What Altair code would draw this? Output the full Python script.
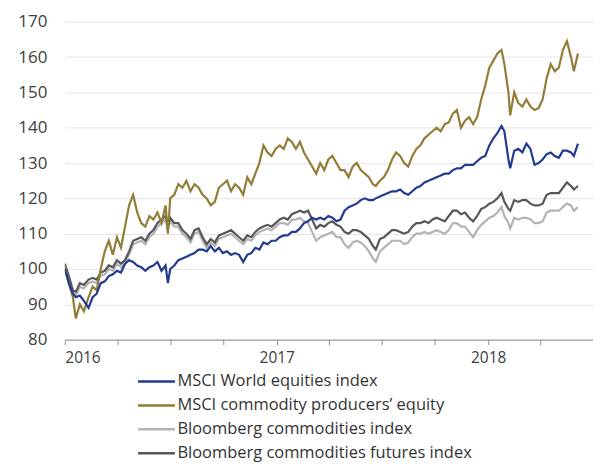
import altair as alt
import pandas as pd

dates = [
    "2016-01-01", "2016-01-08", "2016-01-15", "2016-01-20", "2016-01-27", "2016-02-03", "2016-02-11", "2016-02-18",
    "2016-02-25", "2016-03-03", "2016-03-10", "2016-03-17", "2016-03-24", "2016-03-31", "2016-04-07", "2016-04-14",
    "2016-04-21", "2016-04-28", "2016-05-05", "2016-05-12", "2016-05-19", "2016-05-26", "2016-06-02", "2016-06-09",
    "2016-06-16", "2016-06-23", "2016-06-27", "2016-07-01", "2016-07-08", "2016-07-15", "2016-07-22", "2016-07-29",
    "2016-08-05", "2016-08-12", "2016-08-19", "2016-08-26", "2016-09-02", "2016-09-09", "2016-09-16", "2016-09-23",
    "2016-09-30", "2016-10-07", "2016-10-14", "2016-10-21", "2016-10-28", "2016-11-04", "2016-11-11", "2016-11-18",
    "2016-11-25", "2016-12-02", "2016-12-09", "2016-12-16", "2016-12-23", "2016-12-30", "2017-01-06", "2017-01-13",
    "2017-01-20", "2017-01-27", "2017-02-03", "2017-02-10", "2017-02-17", "2017-02-24", "2017-03-03", "2017-03-10",
    "2017-03-17", "2017-03-24", "2017-03-31", "2017-04-07", "2017-04-14", "2017-04-21", "2017-04-28", "2017-05-05",
    "2017-05-12", "2017-05-19", "2017-05-26", "2017-06-02", "2017-06-09", "2017-06-16", "2017-06-21", "2017-06-28",
    "2017-07-05", "2017-07-12", "2017-07-19", "2017-07-26", "2017-08-02", "2017-08-09", "2017-08-16", "2017-08-23",
    "2017-08-30", "2017-09-06", "2017-09-13", "2017-09-20", "2017-09-27", "2017-10-04", "2017-10-11", "2017-10-18",
    "2017-10-25", "2017-11-01", "2017-11-08", "2017-11-15", "2017-11-22", "2017-11-29", "2017-12-06", "2017-12-13",
    "2017-12-20", "2017-12-27", "2018-01-03", "2018-01-10", "2018-01-17", "2018-01-24", "2018-01-29", "2018-02-05",
    "2018-02-08", "2018-02-15", "2018-02-22", "2018-03-01", "2018-03-08", "2018-03-15", "2018-03-22", "2018-03-29",
    "2018-04-05", "2018-04-12", "2018-04-19", "2018-04-26", "2018-05-03", "2018-05-10", "2018-05-17", "2018-05-24",
    "2018-05-29", "2018-06-05",
]

msci_world = [
    100, 96, 93, 92, 92.5, 91, 89, 92, 93, 96, 96.5, 98, 98.5, 99.5, 99, 101.5,
    102.5, 102, 101, 100.5, 99.5, 100.5, 101, 102, 99.5, 101, 96, 100, 101, 102.5, 103, 103.5,
    104, 104.5, 105.5, 105.5, 105, 106.5, 105, 106, 104.5, 105, 104, 104.5, 104, 102, 104, 104.5,
    106, 105.5, 107.5, 107, 108, 108, 109, 109.5, 109.5, 110.5, 110.5, 111.5, 113, 113.5, 114.5, 114,
    114.5, 114, 115, 114.5, 113.5, 114, 116.5, 117.5, 118, 118.5, 119.5, 120, 119.5, 119.5, 120, 120.5,
    121, 121.5, 122, 122, 122.5, 121.5, 121, 122, 123, 123.5, 124.5, 125, 125.5, 126, 126.5, 127,
    127, 128, 128.5, 128.5, 129.5, 129.5, 129.5, 130.5, 131.5, 132, 135, 137, 138.5, 140.5, 139, 131,
    128.5, 133.5, 134, 133, 135.5, 134, 129.5, 130, 131, 132.5, 133, 132, 131.5, 133.5, 133.5, 133,
    132, 135.5,
]

msci_commodity = [
    101, 96, 92, 86, 90, 88, 92, 95, 94, 100, 105, 108, 104, 109, 106, 112,
    118, 121, 116, 113, 112, 115, 114, 116, 113, 118, 110, 120, 121, 124, 123, 125,
    122, 124, 123, 121, 120, 118, 119, 123, 124, 125, 122, 124, 123, 121, 126, 124,
    127, 130, 135, 133, 132, 134, 135, 134, 137, 136, 134, 136, 133, 131, 129, 127,
    130, 128, 131, 132, 130, 128, 128, 126, 129, 130, 128, 127, 126, 124, 123.5, 125,
    126, 128, 131, 133, 132, 130, 129, 132, 134, 135, 137, 138, 139, 140, 139, 141,
    141.5, 144, 145, 140, 142, 143, 141, 143, 148, 152, 157, 159, 161, 162, 158, 150,
    143.5, 150, 147, 146, 148, 146, 145, 145.5, 148, 154, 158, 156, 157, 162, 164.5, 160,
    156, 161,
]

bbg_commodities = [
    100.5, 97, 93, 92.5, 95, 94.5, 96, 96.5, 96, 98, 98.5, 100, 99.5, 101.5, 100.5, 101.5,
    104, 107, 107.5, 108, 107, 109, 110, 112, 113, 114, 111, 113.5, 112, 112, 110, 109,
    107.5, 110, 110.5, 108, 106, 107.5, 106.5, 108.5, 109, 109.5, 110, 109, 108, 107, 108.5, 108,
    109.5, 110.5, 111, 111.5, 111, 112, 113, 113, 112.5, 114, 114, 114.5, 113.5, 113, 110.5, 108,
    109, 109.5, 110, 110.5, 109, 109, 107, 106, 107.5, 108, 107.5, 106.5, 105, 103, 102, 105,
    106, 107, 108, 108, 108, 107, 107.5, 109, 110, 110, 110.5, 110, 110.5, 111, 110.5, 110,
    111, 113, 113, 112, 112, 110.5, 109, 111, 112.5, 113.5, 114.5, 115, 116, 117.5, 115, 113,
    111.5, 114.5, 114, 114.5, 114.5, 114, 113, 113, 113.5, 116, 116.5, 116.5, 116.5, 117.5, 118.5, 118,
    116.5, 117.5,
]

bbg_futures = [
    101.5, 98, 94, 93.5, 96, 95.5, 97, 97.5, 97, 99, 99.5, 101, 100.5, 102.5, 101.5, 102.5,
    105, 108, 108.5, 109, 108, 110, 111, 113, 114, 115, 112, 114.5, 113, 113, 111, 110,
    108.5, 111, 111.5, 109, 107, 108.5, 107.5, 109.5, 110, 110.5, 111, 110, 109, 108, 109.5, 109,
    110.5, 111.5, 112, 112.5, 112, 113, 114, 114.5, 114, 115.5, 116, 116.5, 116, 116.5, 114, 111.5,
    112.5, 112, 113, 113.5, 112.5, 112, 110.5, 110, 111, 111, 110.5, 109.5, 108.5, 106.5, 105.5, 108.5,
    109, 110, 111, 111, 110.5, 110, 110.5, 112, 113, 113, 113.5, 113, 114, 114.5, 114, 113.5,
    115, 116.5, 116.5, 115.5, 116, 114.5, 113.5, 115, 117, 117.5, 118.5, 119, 120, 121.5, 119, 117,
    116.5, 119.5, 119, 119.5, 119.5, 118.5, 118, 118, 118.5, 121, 121.5, 121.5, 121.5, 123, 124.5, 123.5,
    122.5, 123.5,
]

series_names = [
    "MSCI World equities index",
    "MSCI commodity producers\u2019 equity",
    "Bloomberg commodities index",
    "Bloomberg commodities futures index",
]
series_colors = ["#223a91", "#927d36", "#b3b3b3", "#575757"]
y_ticks = [80, 90, 100, 110, 120, 130, 140, 150, 160, 170]

series_values = [msci_world, msci_commodity, bbg_commodities, bbg_futures]
frames = []
for name, vals in zip(series_names, series_values):
    frames.append(pd.DataFrame({"date": dates, "value": vals, "series": name}))
df = pd.concat(frames, ignore_index=True)

quarter_ticks = [
    alt.DateTime(year=y, month=m, date=1, utc=True)
    for y, m in [(2016, 1), (2016, 4), (2016, 7), (2016, 10), (2017, 1), (2017, 4),
                 (2017, 7), (2017, 10), (2018, 1), (2018, 4), (2018, 7)]
]

x_enc = alt.X(
    "date:T",
    scale=alt.Scale(
        type="utc",
        domain=[alt.DateTime(year=2016, month=1, date=1, utc=True),
                alt.DateTime(year=2018, month=7, date=1, utc=True)],
    ),
    axis=alt.Axis(
        values=quarter_ticks,
        labelExpr="utcFormat(datum.value, '%m') == '01' ? utcFormat(datum.value, '%Y') : ''",
        title=None,
        grid=False,
        domainColor="#8a8a8a",
        tickColor="#8a8a8a",
        tickSize=5,
        labelPadding=6,
        labelFontSize=15.5,
        labelColor="#404040",
        labelFont="Open Sans",
    ),
)
y_enc = alt.Y(
    "value:Q",
    scale=alt.Scale(domain=[80, 170], nice=False, zero=False),
    axis=alt.Axis(
        values=y_ticks,
        title=None,
        domain=False,
        ticks=False,
        labelPadding=18,
        labelFontSize=17,
        labelColor="#404040",
        labelFont="Open Sans",
        gridColor="#e4e4e4",
        gridWidth=1,
    ),
)
color_enc = alt.Color(
    "series:N",
    scale=alt.Scale(domain=series_names, range=series_colors),
    legend=alt.Legend(
        title=None,
        orient="none",
        legendX=72,
        legendY=353,
        direction="vertical",
        symbolType="stroke",
        symbolSize=1369,
        symbolStrokeWidth=2.5,
        clipHeight=16,
        rowPadding=7,
        labelOffset=1,
        labelFontSize=16.5,
        labelFont="Open Sans",
        labelColor="#333333",
        labelLimit=0,
        padding=0,
    ),
)

base = alt.Chart(df)
draw_order = [series_names[2], series_names[3], series_names[1], series_names[0]]
layers = [
    base.transform_filter(alt.datum.series == name)
    .mark_line(strokeWidth=2.2, clip=True)
    .encode(x=x_enc, y=y_enc, color=color_enc)
    for name in draw_order
]

chart = (
    alt.layer(*layers)
    .properties(
        width=530,
        height=319,
        padding={"left": 57, "top": 13, "right": 0, "bottom": 124},
        autosize=alt.AutoSizeParams(type="none"),
        background="white",
    )
    .configure_view(stroke=None)
)

chart.save("out.html", embed_options={"renderer": "svg", "actions": False})
